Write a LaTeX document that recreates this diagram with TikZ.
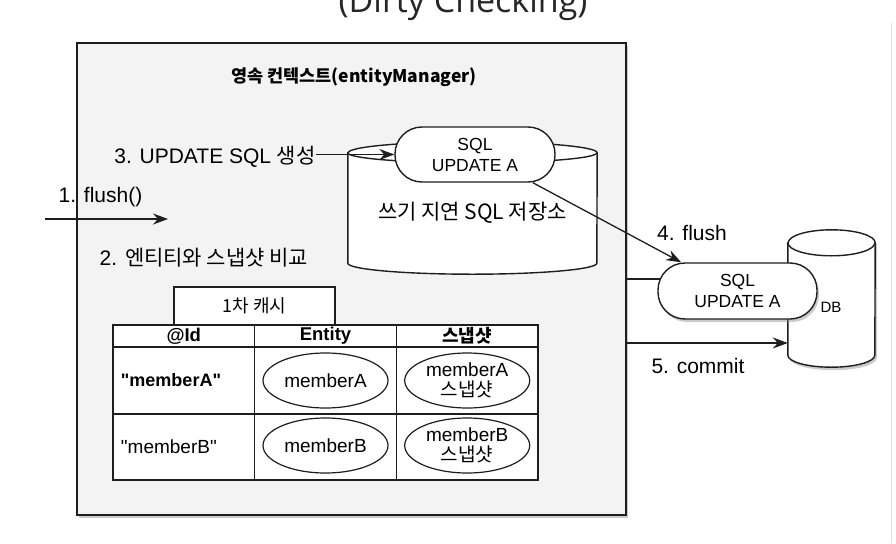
\documentclass[tikz,border=0pt]{standalone}
\usepackage{fontspec}
\setmainfont{Liberation Sans}
\newfontfamily\kr{Noto Sans CJK KR}
\newfontfamily\headfont{Open Sans}
\usepackage{xcolor}
\usepackage{tikz}
\usetikzlibrary{calc}
\usetikzlibrary{positioning}
\usetikzlibrary{arrows.meta}
\usetikzlibrary{shapes.geometric}
\usetikzlibrary{shadows}

\definecolor{ctxgray}{HTML}{F3F3F3}
\definecolor{edgegray}{HTML}{1E1E1E}

\begin{document}
\begin{tikzpicture}[x=1pt,y=-1pt]
  \tikzset{every node/.style={font=\fontsize{21}{25}\selectfont,text=black,inner sep=0pt},
    flowarr/.style={draw=edgegray,line width=1.3pt,-{Stealth[length=15pt,width=11pt,inset=5pt]}},
    softshadow/.style={drop shadow={shadow xshift=2pt,shadow yshift=-3pt,fill=black!45,opacity=.45}},
    pill/.style={draw=edgegray,fill=white,line width=1.4pt,rounded corners=27pt,minimum width=160pt,minimum height=55pt,align=center,font=\fontsize{17.5}{21}\selectfont},
    cell/.style={draw=edgegray,fill=white,line width=1.4pt,minimum width=141.7pt,font=\fontsize{19}{22}\selectfont},
    idcell/.style={cell,text width=125.7pt,inner xsep=8pt,align=left},
    member/.style={draw=edgegray,ellipse,line width=1.2pt,minimum width=125pt,minimum height=55pt,align=center,font=\fontsize{19}{20}\selectfont},
    cyl/.style={draw=edgegray,fill=white,line width=1.4pt}};
  \useasboundingbox (0,0) rectangle (896,543);
  % page title, cut at the top
  \node[font=\headfont\fontsize{34}{40}\selectfont,text=black!85,anchor=base] (pagetitle) at (463,13) {(Dirty Checking)};
  \draw[black!12,line width=1pt] (891,23) -- (891,543);
  % persistence context
  \node[draw=edgegray,line width=2pt,fill=ctxgray,minimum width=549pt,minimum height=472pt,softshadow] (ctx) at (351.5,279) {};
  \node[font=\kr\bfseries\fontsize{17.5}{20}\selectfont] (ctxtitle) at (354,77) {영속 컨텍스트(entityManager)};
  \node (flushlbl) at (100.5,197) {1. flush()};
  \coordinate (flushin) at (45,219);
  \coordinate (flushend) at (168,219);
  \draw[flowarr] (flushin) -- (flushend);
  \node (cmplbl) at (204,258) {2. {\kr 엔티티와 스냅샷 비교}};
  % write-behind store
  \node[minimum width=249pt,minimum height=110pt] (store) at (472.5,208) {};
  \path[cyl] (store.north west) -- (store.south west) arc[start angle=180,end angle=360,x radius=124.5pt,y radius=11pt]
    -- (store.north east) arc[start angle=0,end angle=180,x radius=124.5pt,y radius=11pt] -- cycle;
  \draw[edgegray,line width=1.4pt] (store.north west) arc[start angle=180,end angle=360,x radius=124.5pt,y radius=10pt];
  \node (storelbl) at (472.5,213) {\kr 쓰기 지연 SQL 저장소};
  \node[pill] (sql1) at (475,154.5) {SQL\\UPDATE A};
  \node (genlbl) at (215,157) {3. UPDATE SQL {\kr 생성}};
  \draw[flowarr] (genlbl.east |- sql1.west) -- (sql1.west);
  % database
  \node[minimum width=87pt,minimum height=112pt] (db) at (831.5,299) {};
  \path[cyl,softshadow] (db.north west) -- (db.south west) arc[start angle=180,end angle=360,x radius=43.5pt,y radius=12pt]
    -- (db.north east) arc[start angle=0,end angle=180,x radius=43.5pt,y radius=13pt] -- cycle;
  \draw[edgegray,line width=1.4pt] (db.north west) arc[start angle=180,end angle=360,x radius=43.5pt,y radius=13pt];
  \node[font=\fontsize{15}{18}\selectfont] (dblbl) at (831,307) {DB};
  \node[pill,softshadow,minimum width=159pt,minimum height=56pt] (sql2) at (737.5,291) {SQL\\UPDATE A};
  \draw[flowarr] (sql1.-26.6) -- (sql2.153.2);
  \node (flushlbl2) at (692,233) {4. flush};
  \draw[edgegray,line width=1.3pt,shorten >=-2.5pt] (ctx.east) -- (ctx.east -| sql2.west);
  \coordinate (commitfrom) at (626,343);
  \draw[flowarr] (commitfrom) -- (commitfrom -| db.west);
  \node (commitlbl) at (698,366) {5. commit};
  % first-level cache
  \node[cell,minimum width=161pt,minimum height=38pt,font=\kr\fontsize{18}{20}\selectfont] (cachetab) at (254.5,306) {1차 캐시};
  \node[cell,minimum height=22pt,font=\bfseries\fontsize{18.5}{22}\selectfont] (hid) at (183.8,336) {@Id};
  \node[cell,minimum height=22pt,font=\bfseries\fontsize{18.5}{22}\selectfont] (hent) at (325.5,336) {Entity};
  \node[cell,minimum height=22pt,font=\kr\bfseries\fontsize{18}{22}\selectfont] (hsnap) at (467.2,336) {스냅샷};
  \node[idcell,minimum height=67pt,font=\bfseries\fontsize{18}{22}\selectfont] (aid) at (183.8,380.5) {\textquotedbl memberA\textquotedbl};
  \node[cell,minimum height=67pt] (aent) at (325.5,380.5) {};
  \node[cell,minimum height=67pt] (asnap) at (467.2,380.5) {};
  \node[idcell,minimum height=66pt] (bid) at (183.8,447) {\textquotedbl memberB\textquotedbl};
  \node[cell,minimum height=66pt] (bent) at (325.5,447) {};
  \node[cell,minimum height=66pt] (bsnap) at (467.2,447) {};
  \node[member] (aentity) at (aent) {memberA};
  \node[member] (asnapshot) at (asnap) {memberA\\{\kr 스냅샷}};
  \node[member] (bentity) at ($(bent)+(0,-1.5)$) {memberB};
  \node[member] (bsnapshot) at ($(bsnap)+(0,-1.5)$) {memberB\\{\kr 스냅샷}};
\end{tikzpicture}
\end{document}
